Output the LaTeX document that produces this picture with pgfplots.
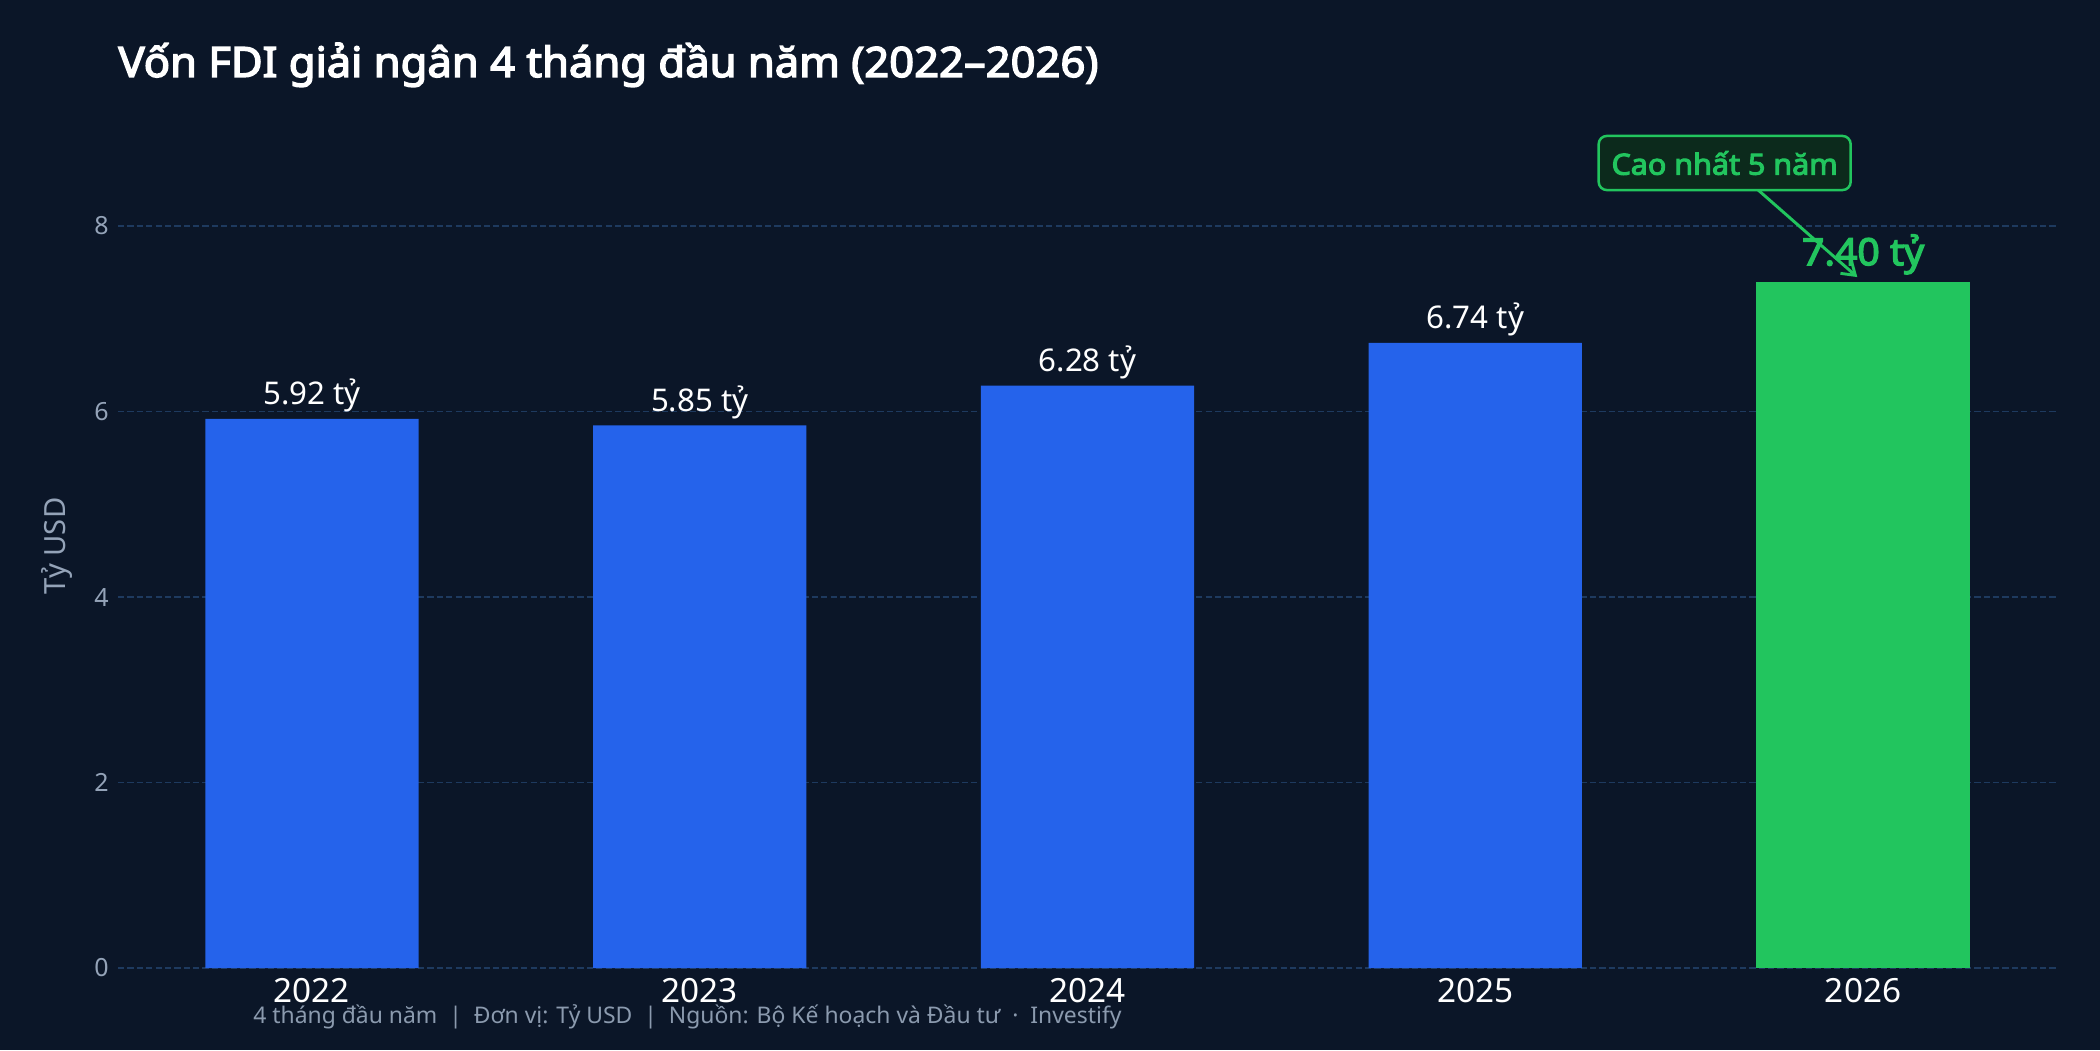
\documentclass[border=0pt]{standalone}
\usepackage{fontspec}
\setmainfont{Noto Sans}[BoldFont={Noto Sans}, BoldFeatures={FakeBold=3.5, FakeStretch=1.045}]
\usepackage{pgfplots}
\pgfplotsset{compat=1.18}
\usetikzlibrary{arrows.meta}

\definecolor{bg}{HTML}{0B1628}
\definecolor{barblue}{HTML}{2563EB}
\definecolor{bargreen}{HTML}{22C55E}
\definecolor{boxgreen}{HTML}{0C2A1C}
\definecolor{gridc}{HTML}{1E3A5F}
\definecolor{tickgray}{HTML}{94A3B8}
\definecolor{footgray}{HTML}{8B9AAE}

\begin{document}
\begin{tikzpicture}
% page = 2100x1050 px, 1 px = 0.48pt, origin at the axis' lower left corner
\fill[bg, use as bounding box] (-56.64pt,-39.36pt) rectangle (951.36pt,464.64pt);

\node[anchor=base west, text=white, font=\bfseries\fontsize{20}{24}\selectfont]
  at (-3.3pt,427.7pt) {Vốn FDI giải ngân 4 tháng đầu năm (2022–2026)};

\begin{axis}[
  at={(0pt,0pt)}, anchor=south west,
  scale only axis, width=930.72pt, height=405.1pt,
  xmin=-0.5, xmax=4.5, ymin=0, ymax=9.1,
  axis line style={draw=none},
  major tick length=0pt, tick style={draw=none},
  xtick={0,1,2,3,4}, xticklabels={2022,2023,2024,2025,2026},
  ytick={0,2,4,6,8},
  ymajorgrids,
  grid style={gridc, line width=0.6pt, dash pattern=on 3pt off 1.5pt},
  /pgf/number format/assume math mode=true,
  yticklabel style={font=\fontsize{12}{14}\selectfont, text=tickgray, inner sep=0pt, xshift=-4.3pt},
  xticklabel style={font=\fontsize{16}{19}\selectfont, text=white, inner sep=0pt, yshift=-4.8pt},
  ylabel={Tỷ USD},
  every axis y label/.style={at={(axis description cs:0,0.5)}, anchor=center,
    xshift=-29.3pt, rotate=90, text=tickgray, font=\fontsize{14}{16}\selectfont},
]
\addplot[ybar, bar shift=0pt, bar width=0.55, fill=barblue, draw=none,
  nodes near coords={\pgfmathprintnumber[fixed,fixed zerofill,precision=2]{\pgfplotspointmeta}~tỷ},
  every node near coord/.append style={font=\fontsize{15}{18}\selectfont, text=white, inner sep=0pt, yshift=3.1pt}]
  coordinates {(0,5.92) (1,5.85) (2,6.28) (3,6.74)};
\addplot[ybar, bar shift=0pt, bar width=0.55, fill=bargreen, draw=none,
  nodes near coords={\pgfmathprintnumber[fixed,fixed zerofill,precision=2]{\pgfplotspointmeta}~tỷ},
  every node near coord/.append style={font=\bfseries\fontsize{18}{21}\selectfont, text=bargreen, inner sep=0pt, yshift=3.4pt}]
  coordinates {(4,7.40)};

\draw[bargreen, line width=1.4pt, -{Straight Barb[length=6pt,width=8pt]}]
  (axis cs:3.729,8.39) -- (axis cs:3.985,7.45);
\node[draw=bargreen, fill=boxgreen, rounded corners=4pt, line width=1.2pt,
  minimum width=121pt, minimum height=26pt, inner sep=0pt, text=bargreen,
  font=\bfseries\fontsize{14}{16}\selectfont] at (axis cs:3.643,8.68) {Cao nhất 5 năm};
\end{axis}

\node[anchor=base west, text=footgray, font=\fontsize{11}{13}\selectfont]
  at (61.4pt,-26.4pt) {4 tháng đầu năm \ | \ Đơn vị: Tỷ USD \ | \ Nguồn: Bộ Kế hoạch và Đầu tư \ · \ Investify};
\end{tikzpicture}
\end{document}
